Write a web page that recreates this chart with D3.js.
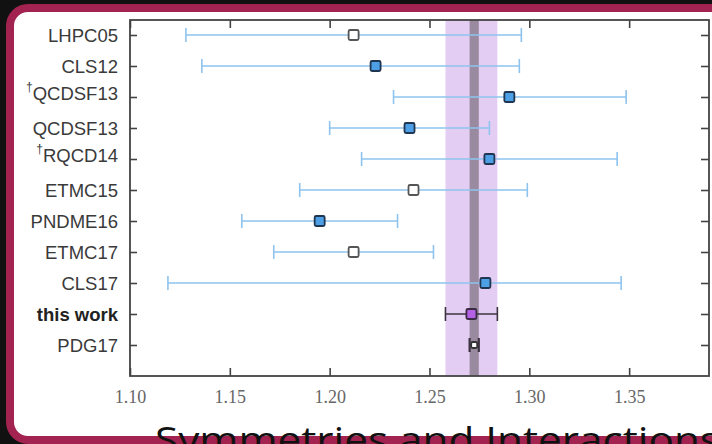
<!DOCTYPE html>
<html>
<head>
<meta charset="utf-8">
<script src="https://cdn.jsdelivr.net/npm/d3@7"></script>
<style>
  html, body { margin: 0; padding: 0; background: #111; }
  svg { display: block; }
</style>
</head>
<body>
<div id="chart"></div>
<script>
// study names, '†' marks a dagger superscript
const studies = ['LHPC05', 'CLS12', '†QCDSF13', 'QCDSF13', '†RQCD14', 'ETMC15',
  'PNDME16', 'ETMC17', 'CLS17', 'this work', 'PDG17'];
const centralValues = [1.212, 1.223, 1.290, 1.240, 1.280, 1.242, 1.195, 1.212, 1.278, 1.271, 1.2724];
const lowerValues = [1.128, 1.136, 1.232, 1.200, 1.216, 1.185, 1.156, 1.172, 1.119, 1.258, 1.2701];
const upperValues = [1.296, 1.295, 1.3485, 1.280, 1.344, 1.299, 1.234, 1.252, 1.346, 1.284, 1.2747];
const markerKinds = ['open', 'filled', 'filled', 'filled', 'filled', 'open', 'filled', 'open', 'filled', 'this', 'pdg'];
const xTicks = [1.10, 1.15, 1.20, 1.25, 1.30, 1.35];
const thisWorkBand = [1.258, 1.284];
const pdgBand = [1.2701, 1.2747];
const slideTitle = 'Symmetries and Interactions';

const W = 712, H = 444;
const frame = { left: 130, right: 709, top: 20, bottom: 376 };

const svg = d3.select('#chart').append('svg')
  .attr('width', W)
  .attr('height', H);

// slide background and crimson rounded border
svg.append('rect').attr('width', W).attr('height', H).attr('fill', '#111');
svg.append('rect')
  .attr('x', 10).attr('y', 8)
  .attr('width', W + 20).attr('height', H - 12)
  .attr('rx', 18)
  .attr('fill', '#fff')
  .attr('stroke', '#a2234f')
  .attr('stroke-width', 8);

const x = d3.scaleLinear()
  .domain([1.10, 1.39])
  .range([frame.left, frame.right]);

const y = d3.scalePoint()
  .domain(studies)
  .range([35, 345]);

const rows = studies.map((s, i) => ({
  name: s,
  value: centralValues[i],
  lo: lowerValues[i],
  hi: upperValues[i],
  kind: markerKinds[i]
}));

// vertical bands
svg.append('rect')
  .attr('x', x(thisWorkBand[0]))
  .attr('y', frame.top)
  .attr('width', x(thisWorkBand[1]) - x(thisWorkBand[0]))
  .attr('height', frame.bottom - frame.top)
  .attr('fill', '#e3cdf3');
svg.append('rect')
  .attr('x', x(pdgBand[0]))
  .attr('y', frame.top)
  .attr('width', x(pdgBand[1]) - x(pdgBand[0]))
  .attr('height', frame.bottom - frame.top)
  .attr('fill', '#9a8a9f');

// axes
const axisColor = '#444';
const bottomAxis = svg.append('g')
  .attr('transform', `translate(0,${frame.bottom})`)
  .call(d3.axisBottom(x).tickValues(xTicks).tickSize(-8).tickSizeOuter(0)
    .tickPadding(14).tickFormat(d3.format('.2f')));
bottomAxis.selectAll('text')
  .attr('font-family', '"Liberation Serif", serif')
  .attr('font-size', 18)
  .attr('fill', '#666');

svg.append('g')
  .attr('transform', `translate(0,${frame.top})`)
  .call(d3.axisTop(x).tickValues(xTicks).tickSize(-8).tickSizeOuter(0).tickFormat(''));

svg.append('g')
  .attr('transform', `translate(${frame.left},0)`)
  .call(d3.axisLeft(y).tickSize(-7).tickSizeOuter(0).tickFormat(''));

svg.append('g')
  .attr('transform', `translate(${frame.right},0)`)
  .call(d3.axisRight(y).tickSize(-8).tickSizeOuter(0).tickFormat(''));

svg.selectAll('.domain').remove();
svg.selectAll('.tick line').attr('stroke', axisColor).attr('stroke-width', 1.6);

svg.append('rect')
  .attr('x', frame.left).attr('y', frame.top)
  .attr('width', frame.right - frame.left)
  .attr('height', frame.bottom - frame.top)
  .attr('fill', 'none')
  .attr('stroke', axisColor)
  .attr('stroke-width', 1.8);

// study labels
const labels = svg.append('g').selectAll('text')
  .data(rows)
  .enter().append('text')
  .attr('x', 118)
  .attr('y', d => y(d.name))
  .attr('dy', '0.36em')
  .attr('text-anchor', 'end')
  .attr('font-family', '"Liberation Sans", Arial, sans-serif')
  .attr('font-size', 18.5)
  .attr('font-weight', d => d.kind === 'this' ? 'bold' : 'normal')
  .attr('fill', d => d.kind === 'this' ? '#222' : '#3a3a3a');

labels.each(function(d) {
  const t = d3.select(this);
  if (d.name.startsWith('†')) {
    t.append('tspan').attr('font-size', 12).attr('dy', '-0.5em').text('†');
    t.append('tspan').attr('dy', '0.5em').text(d.name.slice(1));
  } else {
    t.text(d.name);
  }
});

// error bars
const errColor = d => (d.kind === 'this' || d.kind === 'pdg') ? '#3d3340' : '#8ec3ee';
const capH = 14;
const bars = svg.append('g').selectAll('g')
  .data(rows)
  .enter().append('g');

bars.append('line')
  .attr('x1', d => x(d.lo)).attr('x2', d => x(d.hi))
  .attr('y1', d => y(d.name)).attr('y2', d => y(d.name))
  .attr('stroke', errColor)
  .attr('stroke-width', 1.6);

bars.selectAll('.cap')
  .data(d => [{ v: d.lo, r: d }, { v: d.hi, r: d }])
  .enter().append('line')
  .attr('class', 'cap')
  .attr('x1', c => x(c.v)).attr('x2', c => x(c.v))
  .attr('y1', c => y(c.r.name) - capH / 2)
  .attr('y2', c => y(c.r.name) + capH / 2)
  .attr('stroke', c => errColor(c.r))
  .attr('stroke-width', c => c.r.kind === 'pdg' ? 2.2 : 1.6);

// markers
const markerFill = { open: '#ffffff', filled: '#4d9fe6', this: '#b561e6', pdg: '#ffffff' };
const markerStroke = { open: '#555', filled: '#1f3550', this: '#3a2a44', pdg: '#333' };
svg.append('g').selectAll('rect')
  .data(rows)
  .enter().append('rect')
  .attr('x', d => x(d.value) - (d.kind === 'pdg' ? 3 : 5))
  .attr('y', d => y(d.name) - (d.kind === 'pdg' ? 3 : 5))
  .attr('width', d => d.kind === 'pdg' ? 6 : 10)
  .attr('height', d => d.kind === 'pdg' ? 6 : 10)
  .attr('rx', 1.5)
  .attr('fill', d => markerFill[d.kind])
  .attr('stroke', d => markerStroke[d.kind])
  .attr('stroke-width', 1.8);

// slide title, cut off at the bottom edge
svg.append('text')
  .attr('x', 155)
  .attr('y', 453)
  .attr('font-family', '"Open Sans", "Noto Sans", sans-serif')
  .attr('font-size', 36)
  .attr('fill', '#111')
  .attr('textLength', 565)
  .attr('lengthAdjust', 'spacingAndGlyphs')
  .text(slideTitle);
</script>
</body>
</html>
